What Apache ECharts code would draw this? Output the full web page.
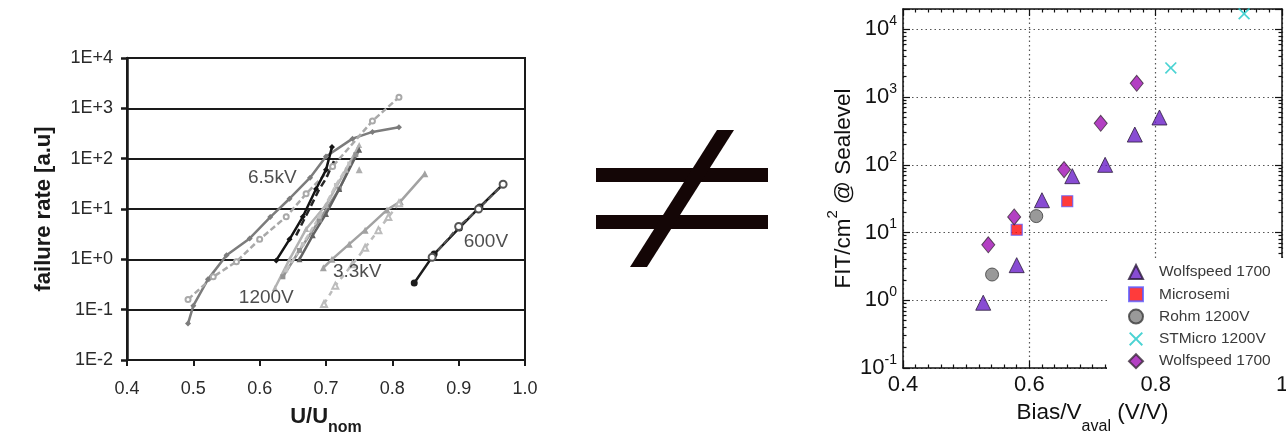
<!DOCTYPE html>
<html>
<head>
<meta charset="utf-8">
<script src="https://cdn.jsdelivr.net/npm/echarts@6/dist/echarts.min.js"></script>
<style>
  html, body { margin: 0; padding: 0; background: #fff; }
  #chart { width: 1286px; height: 433px; }
</style>
</head>
<body>
<div id="chart"></div>
<script>
// ---------- Left panel: failure rate [a.u] vs U/U_nom (log scale) ----------
const uTicks = [0.4, 0.5, 0.6, 0.7, 0.8, 0.9, 1.0];
const rateTicks = ['1E-2', '1E-1', '1E+0', '1E+1', '1E+2', '1E+3', '1E+4'];

// 6.5kV devices
const kv65Solid = [[0.492, 0.053], [0.50, 0.12], [0.522, 0.40], [0.55, 1.2], [0.585, 2.6], [0.616, 6.9], [0.645, 16], [0.676, 42], [0.70, 110], [0.74, 250], [0.77, 340], [0.81, 420]];
const kv65Dashed = [[0.492, 0.16], [0.53, 0.45], [0.565, 0.9], [0.60, 2.5], [0.64, 7], [0.67, 20], [0.71, 70], [0.77, 560], [0.81, 1660]];
const kv65Black = [[0.625, 0.95], [0.645, 2.5], [0.665, 7], [0.685, 25], [0.70, 60], [0.709, 170]];
const kv65BlackDash = [[0.655, 3], [0.675, 10], [0.69, 25], [0.70, 40], [0.712, 90]];

// 1200V devices
const v1200A = [[0.623, 0.27], [0.645, 1], [0.67, 4], [0.70, 12], [0.73, 60], [0.75, 186]];
const v1200B = [[0.635, 0.45], [0.66, 1.5], [0.69, 6], [0.72, 25], [0.745, 120]];
const v1200C = [[0.66, 1.0], [0.68, 3], [0.70, 8], [0.72, 25], [0.75, 150]];
const v1200D = [[0.64, 0.6], [0.665, 2], [0.69, 7], [0.715, 30], [0.735, 80]];
const v1200Single = [[0.75, 60]];

// 3.3kV devices
const kv33Solid = [[0.696, 0.68], [0.709, 1.0], [0.735, 2], [0.759, 3.8], [0.792, 9.6], [0.812, 14], [0.849, 50]];
const kv33Dashed = [[0.697, 0.13], [0.714, 0.3], [0.74, 0.8], [0.759, 1.7], [0.779, 3.8], [0.794, 6.9], [0.81, 13]];

// 600V devices
const v600A = [[0.833, 0.34], [0.863, 1.27], [0.901, 4.2], [0.932, 11], [0.967, 31]];
const v600B = [[0.86, 1.1], [0.90, 4.5], [0.93, 10], [0.967, 31]];

// Voltage-class labels placed next to their curves
const curveLabels = [
  { name: '6.5kV', value: [0.619, 41] },
  { name: '1200V', value: [0.610, 0.17] },
  { name: '3.3kV', value: [0.747, 0.56] },
  { name: '600V', value: [0.941, 2.2] }
];

// ---------- Right panel: FIT/cm^2 @ Sealevel vs Bias/V_aval ----------
const biasTicks = [0.4, 0.6, 0.8, 1];
const wolfspeedTri = [[0.527, 0.92], [0.58, 3.3], [0.62, 30], [0.668, 68], [0.72, 100], [0.767, 280], [0.806, 500]];
const microsemi = [[0.58, 11], [0.66, 29]];
const rohm1200 = [[0.541, 2.4], [0.611, 17.5]];
const stmicro1200 = [[0.824, 2700], [0.94, 17000]];
const wolfspeedDia = [[0.535, 6.6], [0.576, 17], [0.655, 85], [0.713, 410], [0.77, 1600]];

const FONT = 'Liberation Sans, Arial, sans-serif';
const crossPath = 'path://M0,1 L1,0 L5,4 L9,0 L10,1 L6,5 L10,9 L9,10 L5,6 L1,10 L0,9 L4,5 Z';

function lineSeries(name, data, color, opts) {
  return Object.assign({
    name: name,
    type: 'line',
    xAxisIndex: 0,
    yAxisIndex: 0,
    data: data,
    symbol: 'circle',
    symbolSize: 5,
    lineStyle: { color: color, width: 2.5 },
    itemStyle: { color: color },
    silent: true,
    z: 3
  }, opts || {});
}

function expOf(v) { return Math.round(Math.log10(v)); }
function isPow10(v) { return Math.abs(Math.log10(v) - expOf(v)) < 1e-6; }

const chart = echarts.init(document.getElementById('chart'), null, { renderer: 'canvas' });

const option = {
  backgroundColor: '#ffffff',
  animation: false,
  textStyle: { fontFamily: FONT },
  grid: [
    { left: 127, top: 58, width: 398, height: 302, show: true, borderColor: '#1a1a1a', borderWidth: 2, backgroundColor: 'transparent', containLabel: false, outerBoundsMode: 'none' },
    { left: 903, top: 9, width: 379, height: 359, containLabel: false, outerBoundsMode: 'none' }
  ],
  xAxis: [
    {
      gridIndex: 0, type: 'value', min: uTicks[0], max: uTicks[uTicks.length - 1], interval: 0.1,
      name: '{a|U/U}{s|nom}', nameLocation: 'middle', nameGap: 46,
      nameTextStyle: {
        rich: {
          a: { fontSize: 22, fontWeight: 'bold', color: '#1a1a1a', fontFamily: FONT, lineHeight: 24, verticalAlign: 'top' },
          s: { fontSize: 16, fontWeight: 'bold', color: '#1a1a1a', fontFamily: FONT, lineHeight: 16, padding: [14, 0, 0, 0], verticalAlign: 'top' }
        }
      },
      axisLine: { onZero: false, lineStyle: { color: '#1a1a1a', width: 2 } },
      axisTick: { show: true, length: 6, lineStyle: { color: '#1a1a1a', width: 2 } },
      axisLabel: { fontSize: 18, color: '#2a2a2a', margin: 20, fontFamily: FONT, formatter: v => v.toFixed(1) },
      splitLine: { show: false }
    },
    {
      gridIndex: 1, type: 'value', min: 0.4, max: 1, interval: 0.2, position: 'bottom',
      name: '{a|Bias/V}{s|aval}{a| (V/V)}', nameLocation: 'middle', nameGap: 24,
      nameTextStyle: {
        rich: {
          a: { fontSize: 22.5, color: '#111', fontFamily: FONT, lineHeight: 26, verticalAlign: 'top' },
          s: { fontSize: 16, color: '#111', fontFamily: FONT, lineHeight: 16, padding: [18, 0, 0, 0], verticalAlign: 'top' }
        }
      },
      axisLine: { onZero: false, lineStyle: { color: '#111', width: 1.5 } },
      axisTick: { show: true, inside: true, length: 7, lineStyle: { color: '#111', width: 1.2 } },
      minorTick: { show: true, splitNumber: 10, length: 3.5, lineStyle: { color: '#111', width: 1.2 } },
      axisLabel: { fontSize: 22, color: '#111', margin: 6, fontFamily: FONT },
      splitLine: { show: true, lineStyle: { color: '#555', width: 1.2, type: [1.5, 3] } }
    },
    {
      gridIndex: 1, type: 'value', min: 0.4, max: 1, interval: 0.2, position: 'top',
      axisLine: { onZero: false, lineStyle: { color: '#111', width: 1.5 } },
      axisTick: { show: true, inside: true, length: 7, lineStyle: { color: '#111', width: 1.2 } },
      minorTick: { show: true, splitNumber: 10, length: 3.5, lineStyle: { color: '#111', width: 1.2 } },
      axisLabel: { show: false },
      splitLine: { show: false }
    }
  ],
  yAxis: [
    {
      gridIndex: 0, type: 'log', logBase: 10, min: 0.01, max: 10000,
      name: 'failure rate [a.u]', nameLocation: 'middle', nameGap: 72, nameRotate: 90,
      nameTextStyle: { fontSize: 22, fontWeight: 'bold', color: '#1a1a1a', fontFamily: FONT },
      axisLine: { lineStyle: { color: '#1a1a1a', width: 2.5 } },
      axisTick: { show: true, length: 6, lineStyle: { color: '#1a1a1a', width: 2.5 } },
      axisLabel: {
        fontSize: 18, color: '#2a2a2a', margin: 14, fontFamily: FONT,
        formatter: v => rateTicks[expOf(v) + 2]
      },
      splitLine: { show: true, lineStyle: { color: '#1a1a1a', width: 2 } }
    },
    {
      gridIndex: 1, type: 'log', logBase: 10, min: 0.1, max: 20000, position: 'left',
      name: '{a|FIT/cm}{s|2}{a| @ Sealevel}', nameLocation: 'middle', nameGap: 48, nameRotate: 90,
      nameTextStyle: {
        rich: {
          a: { fontSize: 22.5, color: '#111', fontFamily: FONT, lineHeight: 30, verticalAlign: 'bottom' },
          s: { fontSize: 15, color: '#111', fontFamily: FONT, lineHeight: 14, verticalAlign: 'top' }
        }
      },
      axisLine: { onZero: false, lineStyle: { color: '#111', width: 1.5 } },
      axisTick: { show: true, inside: true, length: 7, lineStyle: { color: '#111', width: 1.2 } },
      minorTick: { show: true, splitNumber: 9, length: 3.5, lineStyle: { color: '#111', width: 1.2 } },
      axisLabel: {
        margin: 6, fontFamily: FONT,
        formatter: v => isPow10(v) ? '{b|10}{s|' + expOf(v) + '}' : '',
        rich: {
          b: { fontSize: 22, color: '#111', fontFamily: FONT, lineHeight: 30 },
          s: { fontSize: 14, color: '#111', fontFamily: FONT, lineHeight: 12, verticalAlign: 'top' }
        }
      },
      splitLine: { show: true, lineStyle: { color: '#555', width: 1.2, type: [1.5, 3] } }
    },
    {
      gridIndex: 1, type: 'log', logBase: 10, min: 0.1, max: 20000, position: 'right',
      axisLine: { onZero: false, lineStyle: { color: '#111', width: 1.5 } },
      axisTick: { show: true, inside: true, length: 7, lineStyle: { color: '#111', width: 1.2 } },
      minorTick: { show: true, splitNumber: 9, length: 3.5, lineStyle: { color: '#111', width: 1.2 } },
      axisLabel: { show: false },
      splitLine: { show: false }
    }
  ],
  legend: {
    data: ['Wolfspeed 1700', 'Microsemi', 'Rohm 1200V', 'STMicro 1200V', 'Wolfspeed 1700 '],
    orient: 'vertical',
    left: 1107, top: 258,
    padding: [6, 14, 7, 21],
    itemWidth: 14, itemHeight: 14, itemGap: 6.3,
    symbolKeepAspect: true,
    backgroundColor: '#ffffff',
    selectedMode: false,
    textStyle: { fontSize: 15.5, color: '#3a3a3a', fontFamily: FONT, padding: [0, 0, 0, 11] },
    z: 5
  },
  graphic: [
    // "not equal" sign between the two panels
    { type: 'rect', shape: { x: 596, y: 168, width: 172, height: 14 }, style: { fill: '#140606' } },
    { type: 'rect', shape: { x: 596, y: 215, width: 172, height: 14 }, style: { fill: '#140606' } },
    { type: 'polygon', shape: { points: [[717, 130], [734, 130], [647, 267], [630, 267]] }, style: { fill: '#140606' } }
  ],
  series: [
    lineSeries('6.5kV a', kv65Solid, '#7c7c7c', { symbol: 'diamond', symbolSize: 6 }),
    lineSeries('6.5kV b', kv65Dashed, '#a9a9a9', { symbol: 'emptyCircle', symbolSize: 5, lineStyle: { color: '#a9a9a9', width: 2.5, type: [6, 3] } }),
    lineSeries('1200V a', v1200A, '#b3b3b3', { symbol: 'triangle', symbolSize: 6 }),
    lineSeries('1200V b', v1200B, '#939393', { symbol: 'rect', symbolSize: 5 }),
    lineSeries('1200V c', v1200C, '#626262', { symbol: 'triangle', symbolSize: 6 }),
    lineSeries('1200V d', v1200D, '#c2c2c2', { symbol: 'rect', symbolSize: 4, lineStyle: { color: '#c2c2c2', width: 2.5, type: [6, 3] } }),
    {
      name: '1200V e', type: 'scatter', xAxisIndex: 0, yAxisIndex: 0, data: v1200Single,
      symbol: 'triangle', symbolSize: 7, itemStyle: { color: '#9a9a9a' }, silent: true, z: 3
    },
    lineSeries('6.5kV c', kv65Black, '#141414', { symbol: 'diamond', symbolSize: 6, lineStyle: { color: '#141414', width: 2.5 } }),
    lineSeries('6.5kV d', kv65BlackDash, '#262626', { symbol: 'none', lineStyle: { color: '#262626', width: 2.5, type: [7, 4] } }),
    lineSeries('3.3kV a', kv33Solid, '#a2a2a2', { symbol: 'triangle', symbolSize: 7 }),
    lineSeries('3.3kV b', kv33Dashed, '#bcbcbc', { symbol: 'emptyTriangle', symbolSize: 6, lineStyle: { color: '#bcbcbc', width: 2.5, type: [5, 5] } }),
    lineSeries('600V a', v600A, '#1c1c1c', { symbol: 'circle', symbolSize: 7, lineStyle: { color: '#1c1c1c', width: 2.5 } }),
    lineSeries('600V b', v600B, '#555555', { symbol: 'emptyCircle', symbolSize: 7, lineStyle: { color: '#555555', width: 2, type: [6, 3] } }),
    {
      name: 'voltage classes', type: 'scatter', xAxisIndex: 0, yAxisIndex: 0,
      data: curveLabels, symbolSize: 0, silent: true, z: 4,
      label: { show: true, position: 'inside', formatter: '{b}', fontSize: 19, color: '#222', fontFamily: FONT }
    },

    // Right panel markers
    {
      name: 'Wolfspeed 1700', type: 'scatter', xAxisIndex: 1, yAxisIndex: 1, data: wolfspeedTri,
      symbol: 'triangle', symbolSize: 15,
      itemStyle: { color: '#6a1fc8', borderColor: '#2a1a3a', borderWidth: 1 }, z: 4
    },
    {
      name: 'Microsemi', type: 'scatter', xAxisIndex: 1, yAxisIndex: 1, data: microsemi,
      symbol: 'rect', symbolSize: 11,
      itemStyle: { color: '#ff0a0a', borderColor: '#5a5aff', borderWidth: 1.2 }, z: 4
    },
    {
      name: 'Rohm 1200V', type: 'scatter', xAxisIndex: 1, yAxisIndex: 1, data: rohm1200,
      symbol: 'circle', symbolSize: 13,
      itemStyle: { color: '#7f7f7f', borderColor: '#3a3a3a', borderWidth: 1 }, z: 4
    },
    {
      name: 'STMicro 1200V', type: 'scatter', xAxisIndex: 1, yAxisIndex: 1, data: stmicro1200,
      symbol: crossPath, symbolSize: 12,
      itemStyle: { color: '#1ec8c8' }, z: 4
    },
    {
      name: 'Wolfspeed 1700 ', type: 'scatter', xAxisIndex: 1, yAxisIndex: 1, data: wolfspeedDia,
      symbol: 'diamond', symbolSize: [13, 16],
      itemStyle: { color: '#a010b4', borderColor: '#3a2a3a', borderWidth: 1 }, z: 4
    }
  ]
};

chart.setOption(option);
</script>
</body>
</html>
